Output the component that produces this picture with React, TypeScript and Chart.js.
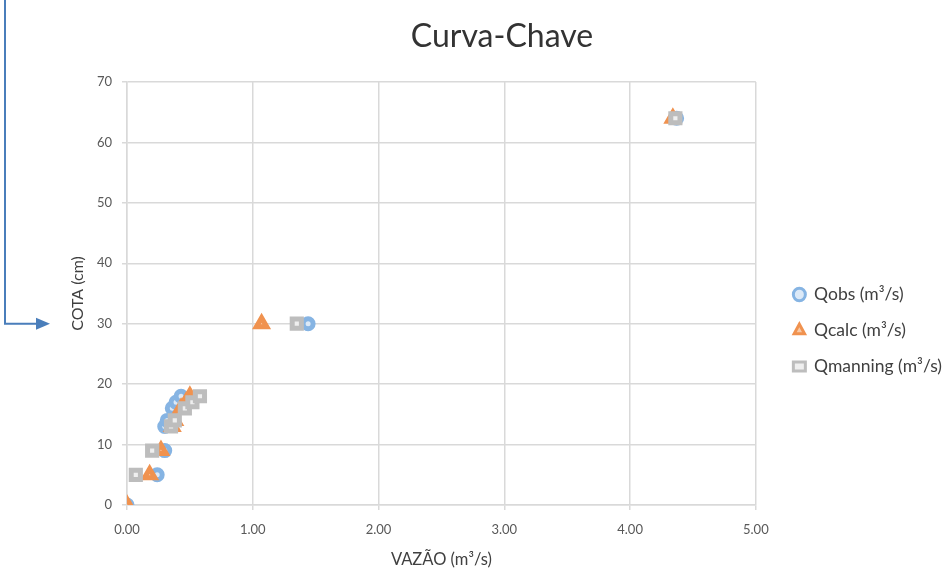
import React, { useEffect, useRef } from "react";
import { Chart, registerables } from "chart.js";

Chart.register(...registerables);

const FONT = "Lato, 'Open Sans', sans-serif";

// COTA (cm)
const cota = [0, 5, 9, 13, 14, 16, 17, 18, 30, 64];
// Vazões (m³/s)
const qObs = [0, 0.24, 0.3, 0.3, 0.32, 0.36, 0.39, 0.43, 1.44, 4.37];
const qCalc = [0, 0.18, 0.27, 0.36, 0.38, 0.43, 0.47, 0.5, 1.07, 4.34];
const qManning = [null, 0.07, 0.2, 0.35, 0.38, 0.46, 0.52, 0.58, 1.35, 4.36];

const seriesLabels = ["Qobs (m³/s)", "Qcalc (m³/s)", "Qmanning (m³/s)"];
const chartTitle = "Curva-Chave";
const xTitle = "VAZÃO (m³/s)";
const yTitle = "COTA (cm)";
const arrowTarget = 30;

const toPoints = (xs: (number | null)[]) =>
  xs.map((x, i) => ({ x: x === null ? NaN : x, y: cota[i] }));

const decor = {
  id: "decor",
  beforeDraw(chart: any) {
    const ctx = chart.ctx;
    ctx.save();
    ctx.fillStyle = "#ffffff";
    ctx.fillRect(0, 0, chart.width, chart.height);
    ctx.restore();
  },
  afterDraw(chart: any) {
    const ctx = chart.ctx;
    ctx.save();
    ctx.font = `32px ${FONT}`;
    ctx.fillStyle = "#333333";
    ctx.textAlign = "center";
    ctx.textBaseline = "middle";
    ctx.fillText(chartTitle, 502, 37);

    const y = chart.scales.y.getPixelForValue(arrowTarget);
    ctx.strokeStyle = "#4a7ebb";
    ctx.fillStyle = "#4a7ebb";
    ctx.lineWidth = 2;
    ctx.beginPath();
    ctx.moveTo(5, 0);
    ctx.lineTo(5, y);
    ctx.lineTo(40, y);
    ctx.stroke();
    ctx.beginPath();
    ctx.moveTo(50, y);
    ctx.lineTo(36, y - 6);
    ctx.lineTo(36, y + 6);
    ctx.closePath();
    ctx.fill();
    ctx.restore();
  },
};

export default function App() {
  const ref = useRef<HTMLCanvasElement | null>(null);

  useEffect(() => {
    if (!ref.current) return;
    const chart = new Chart(ref.current, {
      type: "scatter",
      data: {
        datasets: [
          {
            label: seriesLabels[0],
            data: toPoints(qObs),
            pointStyle: "circle",
            radius: 5,
            borderWidth: 5,
            borderColor: "#86b4e3",
            backgroundColor: "#dce9f7",
            order: 2,
          },
          {
            label: seriesLabels[1],
            data: toPoints(qCalc),
            pointStyle: "triangle",
            radius: 6,
            borderWidth: 5,
            borderColor: "#f0924f",
            backgroundColor: "#f8c9a6",
            order: 1,
          },
          {
            label: seriesLabels[2],
            data: toPoints(qManning),
            pointStyle: "rect",
            radius: 6.5,
            borderWidth: 5,
            borderColor: "#bdbdbd",
            backgroundColor: "#efefef",
            order: 0,
          },
        ],
      },
      options: {
        responsive: false,
        animation: false,
        layout: { padding: { left: 64, top: 82, right: 0, bottom: 0 } },
        plugins: {
          title: { display: false },
          tooltip: { enabled: false },
          legend: {
            position: "right",
            align: "center",
            title: { display: true, text: "", padding: 0, font: { size: 6.67 } },
            labels: {
              usePointStyle: true,
              boxHeight: 9,
              pointStyleWidth: 12,
              color: "#404040",
              font: { family: FONT, size: 17.5 },
              padding: 18.5,
              sort: (a: any, b: any) => a.datasetIndex - b.datasetIndex,
              generateLabels: (chart: any) => {
                const items = (Chart.defaults.plugins.legend.labels as any).generateLabels(chart);
                return items.map((it: any) => ({ ...it, lineWidth: 3 }));
              },
            },
          },
        },
        scales: {
          x: {
            type: "linear",
            min: 0,
            max: 5,
            ticks: {
              stepSize: 1,
              color: "#595959",
              font: { family: FONT, size: 13 },
              padding: 12,
              callback: (v: any) => Number(v).toFixed(2),
            },
            grid: { color: "#d9d9d9", tickLength: 5, lineWidth: 1.5 },
            border: { color: "#d9d9d9", width: 1.5 },
            title: {
              display: true,
              text: xTitle,
              color: "#404040",
              font: { family: FONT, size: 16.5 },
              padding: { top: 2, bottom: 1 },
            },
            afterFit: (s: any) => {
              s.height = 66;
            },
          },
          y: {
            type: "linear",
            min: 0,
            max: 70,
            ticks: {
              stepSize: 10,
              color: "#595959",
              font: { family: FONT, size: 13 },
              padding: 10,
            },
            grid: { color: "#d9d9d9", tickLength: 5, lineWidth: 1.5 },
            border: { color: "#d9d9d9", width: 1.5 },
            title: {
              display: true,
              text: yTitle,
              color: "#404040",
              font: { family: FONT, size: 16 },
              padding: { top: 4, bottom: 4 },
            },
            afterFit: (s: any) => {
              s.width = 63;
            },
          },
          gap: {
            type: "linear",
            position: "right",
            display: false,
            afterFit: (s: any) => {
              s.width = 19;
            },
          },
        },
      },
      plugins: [decor],
    });
    return () => chart.destroy();
  }, []);

  return (
    <div style={{ position: "fixed", left: 0, top: 0, width: 952, height: 571 }}>
      <canvas ref={ref} width={952} height={571} style={{ display: "block", width: 952, height: 571 }} />
    </div>
  );
}
